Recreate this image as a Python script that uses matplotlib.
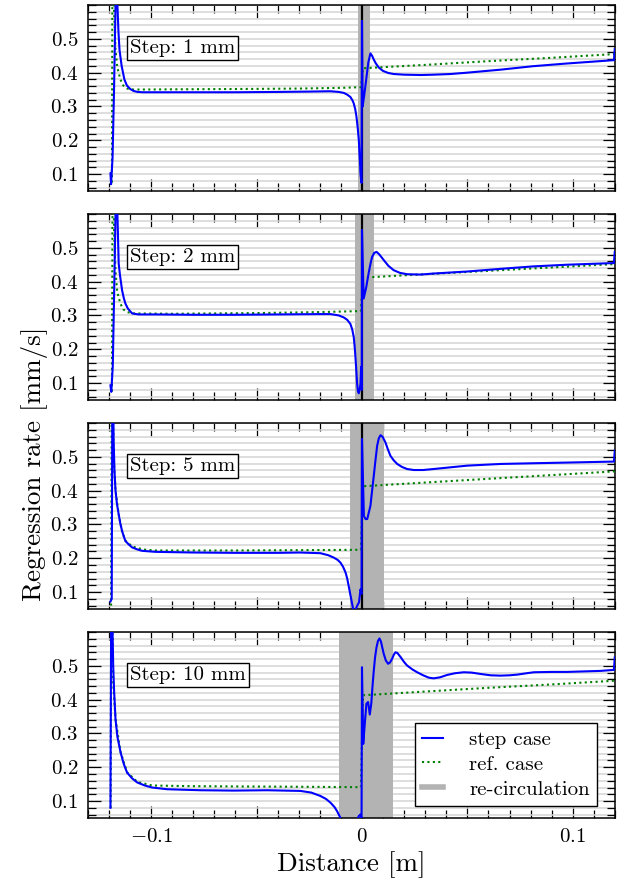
import matplotlib
matplotlib.use("Agg")
import matplotlib.pyplot as plt
from matplotlib.ticker import MultipleLocator, FixedLocator, FuncFormatter
from matplotlib.lines import Line2D

plt.rcParams['font.family'] = 'serif'
plt.rcParams['font.serif'] = ['cmr10', 'DejaVu Serif']
plt.rcParams['mathtext.fontset'] = 'cm'
plt.rcParams['axes.formatter.use_mathtext'] = True

# ---------------- data ----------------
step_labels = ["Step: 1 mm", "Step: 2 mm", "Step: 5 mm", "Step: 10 mm"]
recirc = [(-0.0018, 0.0037), (-0.0031, 0.0058), (-0.0059, 0.0103), (-0.0110, 0.0148)]
step_wall = [True, True, True, False]

# Panel 1 (1 mm)
x_s1 = [-0.1193, -0.1190, -0.1183, -0.1176, -0.1169, -0.1165, -0.1160, -0.1155, -0.1150,
        -0.1140, -0.1127, -0.1115, -0.1100, -0.1084, -0.1065, -0.1040, -0.100, -0.080,
        -0.060, -0.040, -0.025, -0.015, -0.011, -0.0086, -0.0070, -0.0055, -0.0045,
        -0.0039, -0.0032, -0.0026, -0.0020, -0.0015, -0.0010, -0.0007, -0.0002, 0.0000,
        0.0003, 0.0010, 0.0020, 0.0030, 0.0040, 0.0048, 0.0055, 0.0065, 0.0080, 0.0100,
        0.0125, 0.0150, 0.0200, 0.0280, 0.0340, 0.0420, 0.0500, 0.0660, 0.0810, 0.0970,
        0.1195, 0.1199]
y_s1 = [0.102, 0.070, 0.150, 0.350, 0.600, 0.850, 0.600, 0.520, 0.467,
        0.420, 0.380, 0.362, 0.352, 0.346, 0.343, 0.342, 0.342, 0.342,
        0.342, 0.343, 0.344, 0.345, 0.343, 0.340, 0.335, 0.328, 0.318,
        0.309, 0.292, 0.269, 0.235, 0.200, 0.140, 0.100, 0.074, 0.553,
        0.300, 0.330, 0.380, 0.430, 0.457, 0.450, 0.440, 0.428, 0.415, 0.405,
        0.399, 0.396, 0.394, 0.393, 0.394, 0.396, 0.400, 0.409, 0.419, 0.427,
        0.437, 0.470]
x_r1 = [-0.1186, -0.1183, -0.1176, -0.1169, -0.1161, -0.1146, -0.1132, -0.1114, -0.1084,
        -0.080, -0.050, -0.030, -0.010, -0.0005, 0.0005, 0.030, 0.060, 0.090, 0.120]
y_r1 = [0.075, 0.900, 0.580, 0.470, 0.417, 0.380, 0.362, 0.353, 0.350,
        0.351, 0.352, 0.353, 0.355, 0.357, 0.413, 0.423, 0.434, 0.444, 0.455]

# Panel 2 (2 mm)
x_s2 = [-0.1193, -0.1189, -0.1182, -0.1176, -0.1169, -0.1165, -0.1160, -0.1154, -0.1148,
        -0.1138, -0.1130, -0.1122, -0.1110, -0.1090, -0.1060, -0.098, -0.080, -0.060,
        -0.040, -0.020, -0.0149, -0.011, -0.0086, -0.0070, -0.0055, -0.0046, -0.0039,
        -0.0035, -0.0031, -0.0027, -0.0023, -0.0019, -0.0015, -0.0011, -0.0007, -0.0004,
        -0.0001, 0.0000, 0.0008, 0.0020, 0.0031, 0.0040, 0.0048, 0.0058, 0.0069, 0.0080,
        0.0093, 0.0103, 0.0125, 0.0150, 0.0180, 0.0214, 0.0278, 0.0340, 0.0500, 0.0660,
        0.0810, 0.0970, 0.1195, 0.1199]
y_s2 = [0.093, 0.074, 0.150, 0.350, 0.600, 0.850, 0.600, 0.454, 0.420,
        0.375, 0.352, 0.335, 0.320, 0.306, 0.303, 0.303, 0.302, 0.302,
        0.303, 0.304, 0.304, 0.300, 0.294, 0.287, 0.275, 0.258, 0.236,
        0.210, 0.177, 0.138, 0.098, 0.075, 0.070, 0.080, 0.098, 0.148,
        0.080, 0.553, 0.350, 0.383, 0.423, 0.452, 0.473, 0.485, 0.488, 0.482,
        0.472, 0.464, 0.447, 0.434, 0.426, 0.422, 0.421, 0.424, 0.430, 0.438,
        0.445, 0.450, 0.455, 0.488]
x_r2 = [-0.1186, -0.1182, -0.1176, -0.1169, -0.1161, -0.1146, -0.1132, -0.1114, -0.1084,
        -0.090, -0.050, -0.020, -0.0005, 0.0005, 0.030, 0.060, 0.090, 0.120]
y_r2 = [0.075, 0.900, 0.550, 0.430, 0.370, 0.335, 0.318, 0.310, 0.306,
        0.305, 0.307, 0.310, 0.313, 0.412, 0.422, 0.432, 0.442, 0.452]

# Panel 3 (5 mm)
x_s3 = [-0.1193, -0.1187, -0.1183, -0.1178, -0.1174, -0.1169, -0.1162, -0.1154, -0.1146,
        -0.1138, -0.1130, -0.1122, -0.1105, -0.1090, -0.1065, -0.1043, -0.098, -0.080,
        -0.060, -0.040, -0.0294, -0.0197, -0.0160, -0.0134, -0.0115, -0.0102, -0.0090,
        -0.0078, -0.0070, -0.0063, -0.0057, -0.0051, -0.0042, -0.0033, -0.0023, -0.0014,
        -0.0007, -0.0002, 0.0000, 0.0009, 0.0017, 0.0025, 0.0040, 0.0048, 0.0056, 0.0064,
        0.0072, 0.0080, 0.0088, 0.0098, 0.0111, 0.0123, 0.0135, 0.0150, 0.0167, 0.0190,
        0.0214, 0.0246, 0.0290, 0.0340, 0.0500, 0.0660, 0.0810, 0.0970, 0.1195, 0.1199]
y_s3 = [0.072, 0.080, 0.900, 0.550, 0.460, 0.400, 0.360, 0.330, 0.302,
        0.281, 0.265, 0.251, 0.240, 0.232, 0.226, 0.222, 0.219, 0.217,
        0.216, 0.216, 0.217, 0.215, 0.209, 0.202, 0.195, 0.187, 0.175,
        0.158, 0.140, 0.118, 0.098, 0.079, 0.050, 0.045, 0.059, 0.070,
        0.108, 0.095, 0.553, 0.325, 0.316, 0.316, 0.355, 0.400, 0.444, 0.490,
        0.533, 0.555, 0.564, 0.559, 0.543, 0.522, 0.503, 0.490, 0.479, 0.470,
        0.464, 0.461, 0.461, 0.464, 0.474, 0.479, 0.481, 0.483, 0.486, 0.518]
x_r3 = [-0.1190, -0.1186, -0.1178, -0.1169, -0.1154, -0.1138, -0.1122, -0.1090, -0.1040,
        -0.098, -0.060, -0.030, -0.0005, 0.0005, 0.030, 0.060, 0.090, 0.120]
y_r3 = [0.060, 0.900, 0.500, 0.400, 0.330, 0.280, 0.252, 0.235, 0.226,
        0.223, 0.223, 0.224, 0.225, 0.413, 0.424, 0.435, 0.446, 0.457]

# Panel 4 (10 mm)
x_s4 = [-0.1193, -0.1188, -0.1183, -0.1180, -0.1176, -0.1169, -0.1160, -0.1145, -0.1130,
        -0.1114, -0.1090, -0.1066, -0.1030, -0.0995, -0.0924, -0.0766, -0.0610, -0.0450,
        -0.0292, -0.0240, -0.0197, -0.0170, -0.0149, -0.0130, -0.0118, -0.0102, -0.0090,
        -0.0050, -0.0025, -0.0015, -0.0008, -0.0002, 0.0000, 0.0006, 0.0012, 0.0021,
        0.0029, 0.0037, 0.0044, 0.0050, 0.0056, 0.0062, 0.0069, 0.0076, 0.0083, 0.0090,
        0.0096, 0.0103, 0.0113, 0.0124, 0.0133, 0.0143, 0.0152, 0.0159, 0.0168, 0.0183,
        0.0200, 0.0214, 0.0240, 0.0262, 0.0290, 0.0317, 0.0340, 0.0370, 0.0404, 0.0440,
        0.0483, 0.0520, 0.0562, 0.0610, 0.0657, 0.0700, 0.0736, 0.0780, 0.0815, 0.0900,
        0.0973, 0.1131, 0.1195, 0.1199]
y_s4 = [0.080, 0.950, 0.600, 0.500, 0.430, 0.342, 0.290, 0.244, 0.210,
        0.184, 0.167, 0.155, 0.146, 0.140, 0.135, 0.132, 0.131, 0.132,
        0.130, 0.125, 0.115, 0.106, 0.095, 0.082, 0.070, 0.050, 0.035,
        0.020, 0.040, 0.056, 0.060, 0.050, 0.496, 0.269, 0.318, 0.388,
        0.393, 0.356, 0.388, 0.440, 0.486, 0.525, 0.555, 0.574, 0.581, 0.572,
        0.555, 0.536, 0.516, 0.506, 0.510, 0.521, 0.534, 0.540, 0.538, 0.526,
        0.511, 0.501, 0.489, 0.481, 0.472, 0.465, 0.463, 0.466, 0.473, 0.478,
        0.481, 0.480, 0.476, 0.472, 0.471, 0.472, 0.474, 0.478, 0.481, 0.482,
        0.482, 0.485, 0.488, 0.525]
x_r4 = [-0.1192, -0.1189, -0.1180, -0.1169, -0.1145, -0.1114, -0.1066, -0.0995, -0.080,
        -0.050, -0.020, -0.0005, 0.0005, 0.030, 0.060, 0.090, 0.120]
y_r4 = [0.080, 0.900, 0.450, 0.342, 0.245, 0.185, 0.157, 0.146, 0.144,
        0.143, 0.142, 0.141, 0.413, 0.424, 0.435, 0.445, 0.456]

step_x = [x_s1, x_s2, x_s3, x_s4]
step_y = [y_s1, y_s2, y_s3, y_s4]
ref_x = [x_r1, x_r2, x_r3, x_r4]
ref_y = [y_r1, y_r2, y_r3, y_r4]

x_major = [-0.1, -0.05, 0.0, 0.05, 0.1]
x_labels = {-0.1: r"$-0.1$", 0.0: r"$0$", 0.1: r"$0.1$"}
y_major = [0.1, 0.2, 0.3, 0.4, 0.5]

# ---------------- figure ----------------
fig, axes = plt.subplots(4, 1, figsize=(6.19, 8.84), dpi=100, sharex=True)
fig.subplots_adjust(left=0.142, right=0.9935, top=0.9943, bottom=0.0747, hspace=0.124)

blue = '#0000ff'
green = '#008000'
span_c = '#b3b3b3'

def xfmt(v, pos):
    for k, s in x_labels.items():
        if abs(v - k) < 1e-9:
            return s
    return ""

for i, ax in enumerate(axes):
    ax.set_xlim(-0.13, 0.12)
    ax.set_ylim(0.05, 0.6)
    ax.axvspan(recirc[i][0], recirc[i][1], color=span_c, lw=0, zorder=1)
    if step_wall[i]:
        ax.axvline(0.0, color='black', lw=1.6, zorder=2)
    ax.plot(step_x[i], step_y[i], color=blue, lw=1.5, zorder=4)
    ax.plot(ref_x[i], ref_y[i], color=green, lw=1.5, ls=(0, (1, 1.6)), zorder=3)

    ax.yaxis.set_major_locator(FixedLocator(y_major))
    ax.yaxis.set_minor_locator(MultipleLocator(0.02))
    ax.yaxis.set_major_formatter(FuncFormatter(lambda v, p: r"$%.1f$" % v))
    ax.xaxis.set_major_locator(FixedLocator(x_major))
    ax.xaxis.set_minor_locator(MultipleLocator(0.01))
    ax.xaxis.set_major_formatter(FuncFormatter(xfmt))
    ax.grid(True, which='both', axis='y', color='#d4d4d4', lw=1.1, zorder=0)
    ax.set_axisbelow(True)
    ax.tick_params(which='both', direction='in', top=True, right=True,
                   labelsize=15, width=0.9, pad=7)
    ax.tick_params(which='major', length=9)
    ax.tick_params(which='minor', length=5.5)
    for s in ax.spines.values():
        s.set_linewidth(1.1)
    ax.text(0.08, 0.77, step_labels[i], transform=ax.transAxes, fontsize=15,
            ha='left', va='center', zorder=6,
            bbox=dict(boxstyle='square,pad=0.15', fc='white', ec='black', lw=1.0))

axes[-1].set_xlabel("Distance [m]", fontsize=19.5, labelpad=4)
fig.text(0.055, 0.475, "Regression rate [mm/s]", rotation=90, fontsize=19.5,
         ha='center', va='center')

handles = [Line2D([], [], color=blue, lw=1.5),
           Line2D([], [], color=green, lw=1.5, ls=(0, (1, 1.6))),
           Line2D([], [], color=span_c, lw=4)]
leg = axes[-1].legend(handles, ["step case", "ref. case", "re-circulation"],
                      loc='lower right', bbox_to_anchor=(0.966, 0.065), fontsize=15,
                      fancybox=False, framealpha=1, edgecolor='black',
                      handlelength=1.0, handletextpad=1.25, borderpad=0.35,
                      labelspacing=0.3, borderaxespad=0)
leg.get_frame().set_linewidth(1.0)
leg.set_zorder(7)

fig.savefig("out.png", dpi=100)
